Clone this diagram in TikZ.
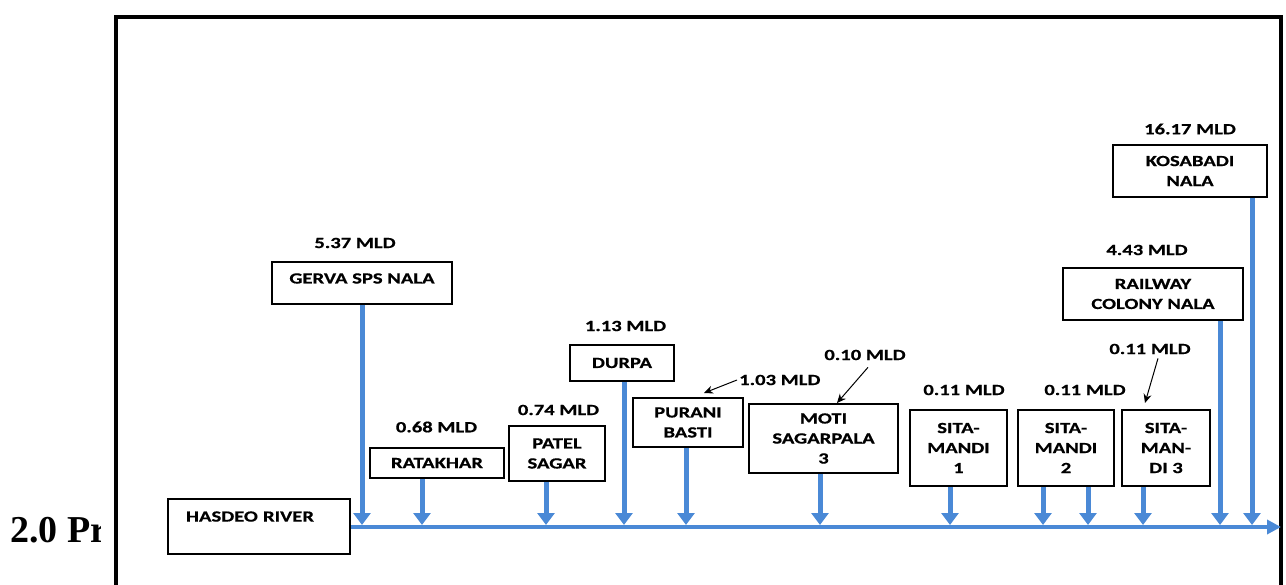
\documentclass[tikz,border=0pt]{standalone}
\usepackage{fontspec}
\setmainfont{Liberation Serif}
\newfontfamily\lblfont[FakeStretch=1.33,FakeBold=0.6]{Carlito}
\usetikzlibrary{arrows.meta}
\definecolor{riverblue}{RGB}{74,137,214}
\begin{document}
\begin{tikzpicture}[x=1pt,y=-1pt,
  txt/.style={font=\lblfont\bfseries\fontsize{15.5}{20}\selectfont},
  box/.style={txt, draw=black, line width=2.5pt, inner sep=0pt, align=center},
  mld/.style={txt, inner sep=0pt},
  feed/.style={draw=riverblue, line width=5pt, -{Triangle[width=17pt,length=12pt]}},
  river/.style={draw=riverblue, line width=4pt, -{Triangle[width=14pt,length=14pt]}},
  pointer/.style={draw=black, line width=1pt, -{Stealth[width=8pt,length=9pt]}},
  ]
\useasboundingbox (0,0) rectangle (1286,585);
\clip (0,0) rectangle (1286,585);
\fill[white] (0,0) rectangle (1286,585);
% frame
\draw[line width=4pt] (116,650) -- (116,17) -- (1281,17) -- (1281,650);
% heading fragment
\begin{scope}
\clip (0,400) rectangle (100,585);
\node[anchor=base west, inner sep=0pt, font=\bfseries\fontsize{38}{40}\selectfont] (heading) at (10,542) {2.0 Pr};
\end{scope}
% boxes
\node[box, align=left, text width=146pt, minimum width=182pt, minimum height=55pt] (hasdeo) at (259,526.5) {HASDEO RIVER\\ \mbox{}};
\node[box, minimum width=180pt, minimum height=42pt, text height=6pt, text depth=5pt] (gerva) at (362,283) {GERVA SPS NALA};
\node[box, minimum width=134pt, minimum height=30pt] (ratakhar) at (437,463) {RATAKHAR};
\node[box, minimum width=96pt, minimum height=55pt] (patel) at (557,453.5) {PATEL\\SAGAR};
\node[box, minimum width=104pt, minimum height=36pt] (durpa) at (622,363) {DURPA};
\node[box, minimum width=110pt, minimum height=49pt] (purani) at (688,422.5) {PURANI\\BASTI};
\node[box, minimum width=149pt, minimum height=69pt] (moti) at (823.5,438.5) {MOTI\\SAGARPALA\\3};
\node[box, minimum width=97pt, minimum height=76pt] (sita1) at (958.5,448) {SITA-\\MANDI\\1};
\node[box, minimum width=96pt, minimum height=76pt] (sita2) at (1066,448) {SITA-\\MANDI\\2};
\node[box, minimum width=88pt, minimum height=76pt] (sita3) at (1166,448) {SITA-\\MAN-\\DI 3};
\node[box, minimum width=180pt, minimum height=52pt] (railway) at (1153,294) {RAILWAY\\COLONY NALA};
\node[box, minimum width=154pt, minimum height=52pt] (kosabadi) at (1190,171) {KOSABADI\\NALA};
% flow labels
\node[mld] (l537) at (355,243) {5.37 MLD};
\node[mld] (l068) at (436.5,427) {0.68 MLD};
\node[mld] (l074) at (558.5,410) {0.74 MLD};
\node[mld] (l113) at (625.5,326) {1.13 MLD};
\node[mld, anchor=west] (l103) at (739,380) {1.03 MLD};
\node[mld] (l010) at (865,355) {0.10 MLD};
\node[mld] (l011a) at (964,390) {0.11 MLD};
\node[mld] (l011b) at (1085,390) {0.11 MLD};
\node[mld] (l011c) at (1150,349) {0.11 MLD};
\node[mld] (l443) at (1147,250) {4.43 MLD};
\node[mld] (l1617) at (1190,129) {16.17 MLD};
% river
\coordinate (rend) at (1281,527);
\draw[river] (hasdeo.east |- rend) -- (rend);
% feed points on the river
\coordinate (f1) at (362,525);
\coordinate (f2) at (422,525);
\coordinate (f3) at (546,525);
\coordinate (f4) at (624,525);
\coordinate (f5) at (686,525);
\coordinate (f6) at (820,525);
\coordinate (f7) at (950,525);
\coordinate (f8) at (1043,525);
\coordinate (f9) at (1088,525);
\coordinate (f10) at (1143,525);
\coordinate (f11) at (1220,525);
\coordinate (f12) at (1252,525);
\draw[feed] (gerva.south -| f1) -- (f1);
\draw[feed] (ratakhar.south -| f2) -- (f2);
\draw[feed] (patel.south -| f3) -- (f3);
\draw[feed] (durpa.south -| f4) -- (f4);
\draw[feed] (purani.south -| f5) -- (f5);
\draw[feed] (moti.south -| f6) -- (f6);
\draw[feed] (sita1.south -| f7) -- (f7);
\draw[feed] (sita2.south -| f8) -- (f8);
\draw[feed] (sita2.south -| f9) -- (f9);
\draw[feed] (sita3.south -| f10) -- (f10);
\draw[feed] (railway.south -| f11) -- (f11);
\draw[feed] (kosabadi.south -| f12) -- (f12);
% pointers
\coordinate (p103) at (704,393);
\coordinate (p010) at (837,403);
\coordinate (p011) at (1145,403);
\draw[pointer] ([xshift=-2pt]l103.west) -- (p103);
\draw[pointer] ([xshift=3pt,yshift=-7pt]l010.south) -- (p010);
\draw[pointer] ([xshift=8pt,yshift=-4pt]l011c.south) -- (p011);
\end{tikzpicture}
\end{document}
